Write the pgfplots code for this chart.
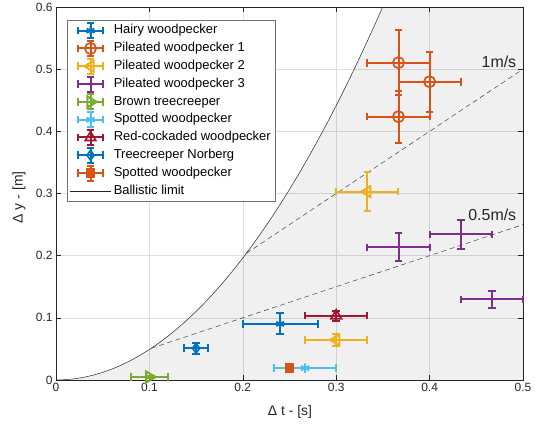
\documentclass[border=0pt]{standalone}
\usepackage{fontspec}
\setmainfont{Liberation Sans}
\usepackage{pgfplots}
\usepackage{pgfplotstable}
\pgfplotsset{compat=1.18}
\definecolor{c1}{rgb}{0,0.447,0.741}
\definecolor{c2}{rgb}{0.85,0.325,0.098}
\definecolor{c3}{rgb}{0.929,0.694,0.125}
\definecolor{c4}{rgb}{0.494,0.184,0.556}
\definecolor{c5}{rgb}{0.466,0.674,0.188}
\definecolor{c6}{rgb}{0.301,0.745,0.933}
\definecolor{c7}{rgb}{0.635,0.078,0.184}
\definecolor{axgray}{rgb}{0.15,0.15,0.15}
\pgfplotstableread{
t y
0.00 0
0.01 0.00049
0.02 0.00196
0.03 0.00441
0.04 0.00785
0.05 0.01226
0.06 0.01766
0.07 0.02403
0.08 0.03139
0.09 0.03973
0.10 0.04905
0.11 0.05935
0.12 0.07063
0.13 0.08289
0.14 0.09614
0.15 0.11036
0.16 0.12557
0.17 0.14175
0.18 0.15892
0.19 0.17707
0.20 0.19620
0.21 0.21631
0.22 0.23740
0.23 0.25947
0.24 0.28253
0.25 0.30656
0.26 0.33158
0.27 0.35757
0.28 0.38455
0.29 0.41251
0.30 0.44145
0.31 0.47137
0.32 0.50227
0.33 0.53415
0.34 0.56702
0.34975 0.6
}\ballistic
\pgfplotstableread{
t y
0.00 0
0.01 0.00049
0.02 0.00196
0.03 0.00441
0.04 0.00785
0.05 0.01226
0.06 0.01766
0.07 0.02403
0.08 0.03139
0.09 0.03973
0.10 0.04905
0.11 0.05935
0.12 0.07063
0.13 0.08289
0.14 0.09614
0.15 0.11036
0.16 0.12557
0.17 0.14175
0.18 0.15892
0.19 0.17707
0.20 0.19620
0.21 0.21631
0.22 0.23740
0.23 0.25947
0.24 0.28253
0.25 0.30656
0.26 0.33158
0.27 0.35757
0.28 0.38455
0.29 0.41251
0.30 0.44145
0.31 0.47137
0.32 0.50227
0.33 0.53415
0.34 0.56702
0.34975 0.6
0.5 0.6
0.5 0
}\region
\pgfplotsset{
  ebar/.style={
    color=#1, only marks, line width=2bp,
    mark options={solid, line width=1.7bp},
    error bars/.cd, x dir=both, x explicit, y dir=both, y explicit,
    error bar style={line width=2bp, color=#1, solid},
    error mark options={rotate=90, line width=2bp, mark size=3.8bp, color=#1, solid},
    /pgfplots/.cd,
  },
  errleg/.style={legend image code/.code={
    \draw[mark=none, line width=2bp, solid]
      (-12.5bp,0)--(12.5bp,0)
      (-12.5bp,-3.8bp)--(-12.5bp,3.8bp)
      (12.5bp,-3.8bp)--(12.5bp,3.8bp)
      (0,-7.5bp)--(0,7.5bp)
      (-3.8bp,-7.5bp)--(3.8bp,-7.5bp)
      (-3.8bp,7.5bp)--(3.8bp,7.5bp);
    \draw plot coordinates {(0,0)};
  }},
}
\begin{document}
\begin{tikzpicture}
\useasboundingbox (-56bp,-50bp) rectangle (479bp,380bp);
\begin{axis}[
  at={(0,0)}, anchor=south west,
  scale only axis, width=467bp, height=373bp,
  xmin=0, xmax=0.5, ymin=0, ymax=0.6,
  xtick={0,0.1,0.2,0.3,0.4,0.5},
  ytick={0,0.1,0.2,0.3,0.4,0.5,0.6},
  xticklabels={0,0.1,0.2,0.3,0.4,0.5},
  yticklabels={0,0.1,0.2,0.3,0.4,0.5,0.6},
  grid=major, major grid style={color=black!13, line width=0.5bp},
  axis line style={color=axgray, line width=0.6bp},
  tick style={color=axgray, line width=0.6bp},
  major tick length=5bp,
  tick align=inside,
  ticklabel style={font=\fontsize{12}{14}\selectfont, color=axgray},
  xlabel={Δ t - [s]}, ylabel={Δ y - [m]},
  label style={font=\fontsize{14}{16}\selectfont, color=axgray},
  xlabel style={at={(axis description cs:0.501,-0.0858)}, anchor=center},
  ylabel style={at={(axis description cs:-0.0790,0.49)}, anchor=center},
  legend style={at={(rel axis cs:0.0236,0.9651)}, anchor=north west,
    draw=black!55, line width=0.5bp, fill=white,
    font=\fontsize{13}{15}\selectfont, inner xsep=2.5bp, inner ysep=1.5bp,
    row sep=0pt, column sep=0pt,
    nodes={inner xsep=2.5bp, inner ysep=2.5bp, text height=9.7bp, text depth=3.1bp}},
  legend cell align=left,
  clip=false,
]
\addplot[draw=none, fill=black, fill opacity=0.06, forget plot] table[x=t,y=y]{\region} \closedcycle;
\addplot[color=black!75, line width=0.5bp, dash pattern=on 5bp off 3.5bp, forget plot] coordinates {(0.2039,0.2039) (0.5,0.5)};
\addplot[color=black!75, line width=0.5bp, dash pattern=on 5bp off 3.5bp, forget plot] coordinates {(0.1019,0.051) (0.5,0.25)};

\addplot[ebar=c1, mark=asterisk, mark size=4.5bp, errleg] coordinates {
  (0.24,0.0903) +- (0.04,0.0169)
};
\addlegendentry{Hairy woodpecker}
\addplot[ebar=c2, mark=o, mark size=5.6bp, errleg] coordinates {
  (0.3667,0.5104) +- (0.0333,0.0525)
  (0.4000,0.4798) +- (0.0333,0.0480)
  (0.3667,0.4236) +- (0.0333,0.0420)
};
\addlegendentry{Pileated woodpecker 1}
\addplot[ebar=c3, mark=triangle, mark size=6.3bp, mark options={rotate=90}, errleg] coordinates {
  (0.3333,0.3029) +- (0.0333,0.0310)
  (0.3000,0.0645) +- (0.0333,0.0100)
};
\addlegendentry{Pileated woodpecker 2}
\addplot[ebar=c4, mark=*, mark options={draw opacity=0, fill opacity=0}, errleg] coordinates {
  (0.3667,0.2134) +- (0.0333,0.0225)
  (0.4333,0.2343) +- (0.0333,0.0235)
  (0.4667,0.1298) +- (0.0333,0.0134)
};
\addlegendentry{Pileated woodpecker 3}
\addplot[ebar=c5, mark=triangle, mark size=6.3bp, mark options={rotate=-90}, errleg] coordinates {
  (0.1000,0.0048) +- (0.0200,0.0020)
};
\addlegendentry{Brown treecreeper}
\addplot[ebar=c6, mark=asterisk, mark size=4.7bp, errleg] coordinates {
  (0.2667,0.0190) +- (0.0333,0.0020)
};
\addlegendentry{Spotted woodpecker}
\addplot[ebar=c7, mark=triangle, mark size=6bp, errleg] coordinates {
  (0.3000,0.1035) +- (0.0333,0.0080)
};
\addlegendentry{Red-cockaded woodpecker}
\addplot[ebar=c1, mark=diamond, mark size=4.8bp, errleg] coordinates {
  (0.1500,0.0510) +- (0.0125,0.0090)
};
\addlegendentry{Treecreeper Norberg}
\addplot[color=c2, only marks, line width=2bp, mark options={solid, line width=1.2bp}, mark=square*, mark size=4.3bp, errleg] coordinates {
  (0.2500,0.0190)
};
\addlegendentry{Spotted woodpecker}
\addplot[color=black!85, line width=0.5bp, mark=none, legend image code/.code={\draw (-20.5bp,0)--(20.5bp,0);}] table[x=t,y=y]{\ballistic};
\addlegendentry{Ballistic limit}

\node[anchor=east, font=\fontsize{16}{18}\selectfont, color=axgray] at (axis cs:0.4965,0.512) {1m/s};
\node[anchor=east, font=\fontsize{16}{18}\selectfont, color=axgray] at (axis cs:0.4965,0.2654) {0.5m/s};
\end{axis}
\end{tikzpicture}
\end{document}
